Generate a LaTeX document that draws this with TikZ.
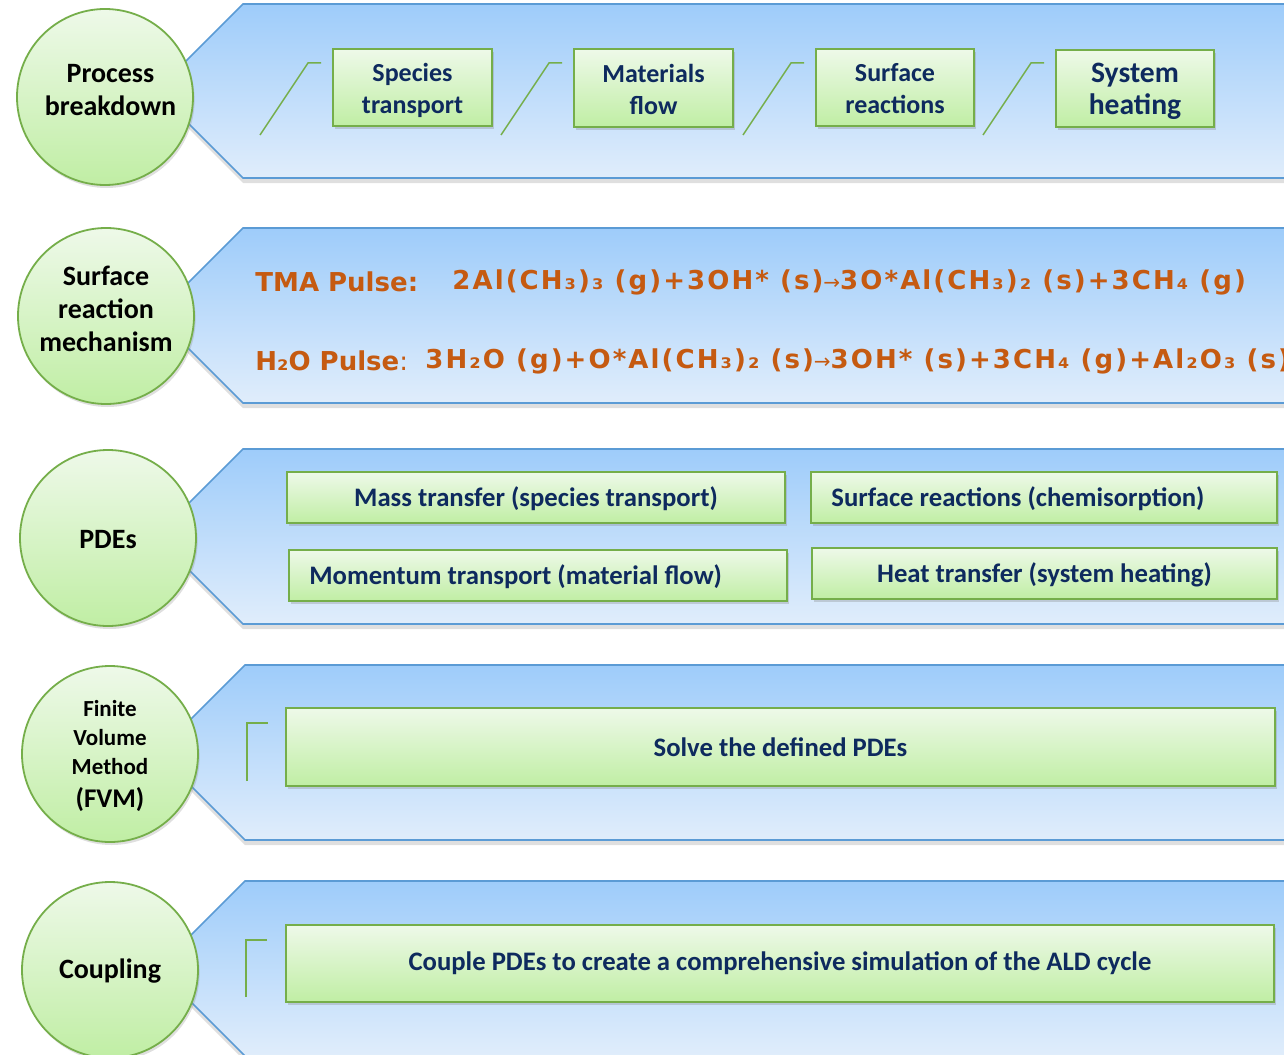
\documentclass[tikz,border=0pt]{standalone}
\usepackage{fontspec}
\setmainfont{Carlito}
\newfontfamily\eqfont{DejaVu Sans}
\newfontfamily\eqfontwide{DejaVu Sans}[LetterSpace=8]
\usetikzlibrary{shadows}
\definecolor{navy}{HTML}{0E2A5E}
\definecolor{eqorange}{HTML}{C55A11}
\definecolor{gborder}{HTML}{75AE4A}
\definecolor{gtop}{HTML}{EEF9E9}
\definecolor{gbot}{HTML}{C0EEA4}
\definecolor{btop}{HTML}{9ECCFA}
\definecolor{bbot}{HTML}{E0EDFB}
\definecolor{bborder}{HTML}{5B9BD5}
\tikzset{
  bannerfill/.style={draw=bborder, line width=0.8pt, top color=btop, bottom color=bbot,
    drop shadow={shadow xshift=0pt, shadow yshift=-2.5pt, opacity=0.25}},
  bubble/.style={circle, draw=gborder, line width=0.9pt, top color=gtop, bottom color=gbot,
    minimum size=88pt, inner sep=0pt,
    drop shadow={shadow xshift=0.8pt, shadow yshift=-1.5pt, opacity=0.25}},
  bubtext/.style={align=center, font=\bfseries\fontsize{14}{16.5}\selectfont, text=black, inner sep=0pt},
  gbox/.style={draw=gborder, line width=1pt, top color=gtop, bottom color=gbot, inner sep=0pt,
    font=\bfseries\fontsize{13.35}{16}\selectfont, text=navy, align=center,
    drop shadow={shadow xshift=1.2pt, shadow yshift=-1.5pt, opacity=0.3}},
  gtext/.style={inner sep=0pt, font=\bfseries\fontsize{13}{16}\selectfont, text=navy, align=center},
  gtextb/.style={gtext, font=\bfseries\fontsize{13.35}{16}\selectfont},
  tick/.style={draw=gborder, line width=0.75pt},
  eq/.style={anchor=west, inner sep=0pt, text=eqorange, font=\eqfont\bfseries\fontsize{13}{15}\selectfont},
  eqw/.style={eq, font=\eqfontwide\bfseries\fontsize{13}{15}\selectfont}
}
\newcommand\mybanner[3]{%
  \path[bannerfill] (#1,#2) -- (1300,#2) -- (1300,#3) -- (#1,#3) -- ({#1-(#3-#2)/2},{(#2+#3)/2}) -- cycle;}
\newcommand\myarrow{{\eqfont\fontsize{10}{12}\selectfont\mdseries →}}
\begin{document}
\begin{tikzpicture}[x=0.5pt,y=-0.5pt]
\useasboundingbox (0,0) rectangle (1284,1054);

% banners
\mybanner{243}{4}{178}
\mybanner{243}{228}{403}
\mybanner{243}{449}{624}
\mybanner{245}{665}{840}
\mybanner{245}{881}{1056}

% circles
\node[bubble] (c1) at (105,97) {};
\node[bubble] (c2) at (106,316) {};
\node[bubble] (c3) at (108,538) {};
\node[bubble] (c4) at (110,754) {};
\node[bubble] (c5) at (110,970) {};
\node[bubtext] (t1) at (110.5,90) {Process\\breakdown};
\node[bubtext] (t2) at (106,309) {Surface\\reaction\\mechanism};
\node[bubtext] (t3) at (108,540) {PDEs};
\node[bubtext, font=\bfseries\fontsize{11.5}{14.5}\selectfont] (t4) at (110,756)
  {Finite\\Volume\\Method\\[2pt]{\fontsize{13.5}{15}\selectfont (FVM)}};
\node[bubtext] (t5) at (110,971) {Coupling};

% row 1
\node[gbox, minimum width=79.5pt, minimum height=38.5pt] (b11) at (412.5,87.5) {};
\node[gtext] at (412.5,90) {Species\\transport};
\node[gbox, minimum width=79.5pt, minimum height=39pt] (b12) at (653.5,88) {};
\node[gtext] at (653.5,89) {Materials\\flow};
\node[gbox, minimum width=79pt, minimum height=38.5pt] (b13) at (895,87.5) {};
\node[gtext] at (895,88.5) {Surface\\reactions};
\node[gbox, minimum width=79pt, minimum height=38.5pt] (b14) at (1135,88.5) {};
\node[gtext, font=\bfseries\fontsize{14.8}{16}\selectfont] at (1135,91) {System\\heating};
\foreach \x in {260,501,743,983}{
  \draw[tick] (\x,135) -- (\x+48,63) -- (\x+61,63);
}

% row 2
\node[eq] (e1a) at (255,282) {TMA Pulse:};
\node[eqw] (e1b) at (452,282) {2Al(CH₃)₃ (g)+3OH* (s)\myarrow 3O*Al(CH₃)₂ (s)+3CH₄ (g)};
\node[eq] (e2a) at (255,361) {H₂O Pulse{\mdseries :}};
\node[eqw] (e2b) at (425,361) {3H₂O (g)+O*Al(CH₃)₂ (s)\myarrow 3OH* (s)+3CH₄ (g)+Al₂O₃ (s)};

% row 3
\node[gbox, minimum width=249pt, minimum height=25.5pt] (b31) at (536,497.5) {};
\node[gtextb] at (536,498.5) {Mass transfer (species transport)};
\node[gbox, minimum width=233pt, minimum height=25.5pt] (b32) at (1044,497.5) {};
\node[gtextb, anchor=west] at (831,498.5) {Surface reactions (chemisorption)};
\node[gbox, minimum width=249pt, minimum height=25.5pt] (b33) at (538,575.5) {};
\node[gtextb, anchor=west] at (309,577) {Momentum transport (material flow)};
\node[gbox, minimum width=232.5pt, minimum height=25.5pt] (b34) at (1044.5,573.5) {};
\node[gtextb] at (1044.5,574.5) {Heat transfer (system heating)};

% row 4
\draw[tick] (247,781) -- (247,723) -- (268,723);
\node[gbox, minimum width=494.5pt, minimum height=39pt] (b4) at (780.5,747) {Solve the defined PDEs};

% row 5
\draw[tick] (246,997) -- (246,940) -- (267,940);
\node[gbox, minimum width=494pt, minimum height=38.5pt] (b5) at (780,963.5) {Couple PDEs to create a comprehensive simulation of the ALD cycle};
\end{tikzpicture}
\end{document}
